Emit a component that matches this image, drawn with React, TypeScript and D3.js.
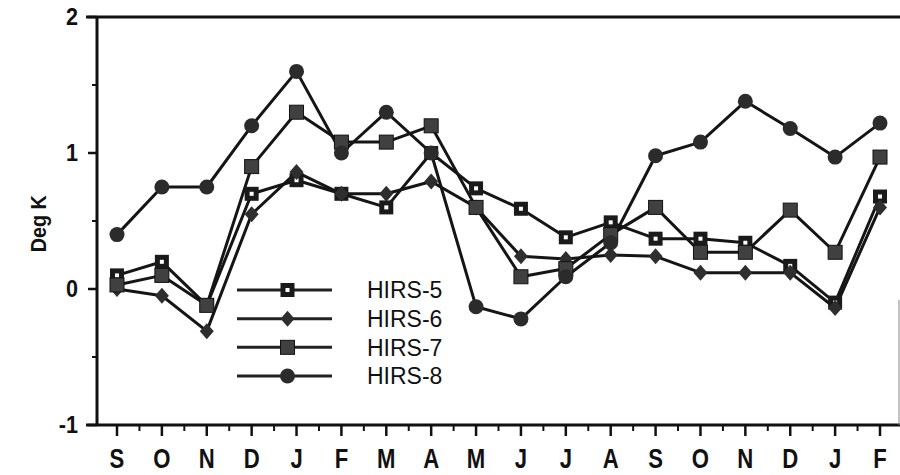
import React from "react";
import * as d3 from "d3";

// month labels along the bottom (Sep through the following Feb + 1 yr)
const months = ["S", "O", "N", "D", "J", "F", "M", "A", "M", "J", "J", "A", "S", "O", "N", "D", "J", "F"];
const yTicks = [-1, 0, 1, 2];
const yMinor = [-0.5, 0.5, 1.5];

const hirs5 = [0.1, 0.2, -0.12, 0.7, 0.8, 0.7, 0.6, 1.0, 0.74, 0.59, 0.38, 0.49, 0.37, 0.37, 0.34, 0.17, -0.1, 0.68];
const hirs6 = [0.0, -0.05, -0.31, 0.55, 0.86, 0.7, 0.7, 0.79, 0.6, 0.24, 0.22, 0.25, 0.24, 0.12, 0.12, 0.12, -0.14, 0.6];
const hirs7 = [0.03, 0.1, -0.12, 0.9, 1.3, 1.08, 1.08, 1.2, 0.6, 0.09, 0.15, 0.4, 0.6, 0.27, 0.27, 0.58, 0.27, 0.97];
const hirs8 = [0.4, 0.75, 0.75, 1.2, 1.6, 1.0, 1.3, 1.0, -0.13, -0.22, 0.09, 0.34, 0.98, 1.08, 1.38, 1.18, 0.97, 1.22];

const seriesNames = ["HIRS-5", "HIRS-6", "HIRS-7", "HIRS-8"];

function Marker({ kind, cx, cy }) {
    if (kind === "HIRS-5") {
        return (
            <g>
                <rect x={cx - 7} y={cy - 7} width={14} height={14} fill="#1a1a1a" />
                <rect x={cx - 2} y={cy - 2} width={4} height={4} fill="#fff" />
            </g>
        );
    }
    if (kind === "HIRS-6") {
        return <path d={`M${cx},${cy - 8}L${cx + 7},${cy}L${cx},${cy + 8}L${cx - 7},${cy}Z`} fill="#2e2e2e" />;
    }
    if (kind === "HIRS-7") {
        return <rect x={cx - 7} y={cy - 7} width={14} height={14} fill="#404040" stroke="#111" strokeWidth={1} />;
    }
    return <circle cx={cx} cy={cy} r={7.5} fill="#2b2b2b" />;
}

export default function App() {
    const width = 900;
    const height = 475;

    const x = d3.scaleLinear().domain([0, months.length - 1]).range([117, 880]);
    const y = d3.scaleLinear().domain([-1, 2]).range([425, 17]);
    const axisX = 97;

    const data = [hirs5, hirs6, hirs7, hirs8];
    const line = d3
        .line()
        .x((d, i) => x(i))
        .y((d) => y(d));

    const minorX = d3.range(0.5, months.length - 1, 1);
    const font = "'Liberation Sans', Arial, Helvetica, sans-serif";

    // legend layout
    const legX0 = 237;
    const legX1 = 332;
    const legRow = d3.scaleLinear().domain([0, 3]).range([290, 376]);

    return (
        <svg
            width={width}
            height={height}
            style={{ position: "absolute", left: 0, top: 0, background: "#fff" }}
            fontFamily={font}
        >
            {/* frame */}
            <line x1={86} x2={width} y1={y(2)} y2={y(2)} stroke="#111" strokeWidth={3} />
            <line x1={axisX} x2={axisX} y1={y(2)} y2={y(-1)} stroke="#111" strokeWidth={3} />
            <line x1={86} x2={width} y1={y(-1)} y2={y(-1)} stroke="#111" strokeWidth={3} />
            <line x1={899} x2={899} y1={y(-0.08)} y2={y(-1)} stroke="#888" strokeWidth={1} />

            {/* y ticks */}
            {yTicks.map((t) => (
                <g key={"yt" + t}>
                    <line x1={axisX - 9} x2={axisX} y1={y(t)} y2={y(t)} stroke="#111" strokeWidth={2.5} />
                    <text
                        transform={`translate(78,${y(t) + 8}) scale(0.9,1)`}
                        textAnchor="end"
                        fontSize={24}
                        fontWeight="bold"
                        fill="#111"
                    >
                        {t}
                    </text>
                </g>
            ))}
            {yMinor.map((t) => (
                <line key={"ym" + t} x1={axisX - 5} x2={axisX} y1={y(t)} y2={y(t)} stroke="#111" strokeWidth={2} />
            ))}
            <text
                transform={`translate(46,${y(0.48)}) rotate(-90) scale(0.9,1)`}
                textAnchor="middle"
                fontSize={22}
                fontWeight="bold"
                fill="#111"
            >
                Deg K
            </text>

            {/* x ticks */}
            {months.map((m, i) => (
                <g key={"xt" + i}>
                    <line x1={x(i)} x2={x(i)} y1={y(-1)} y2={y(-1) + 11} stroke="#111" strokeWidth={2.5} />
                    <text
                        transform={`translate(${x(i)},${y(-1) + 43}) scale(0.82,1)`}
                        textAnchor="middle"
                        fontSize={27}
                        fontWeight="bold"
                        fill="#111"
                    >
                        {m}
                    </text>
                </g>
            ))}
            {minorX.map((v) => (
                <line key={"xm" + v} x1={x(v)} x2={x(v)} y1={y(-1)} y2={y(-1) + 6} stroke="#111" strokeWidth={2} />
            ))}

            {/* series lines */}
            {data.map((s, k) => (
                <path key={"l" + k} d={line(s)} fill="none" stroke="#151515" strokeWidth={3} strokeLinejoin="round" />
            ))}
            {/* markers */}
            {data.map((s, k) => (
                <g key={"m" + k}>
                    {s.map((v, i) => (
                        <Marker key={i} kind={seriesNames[k]} cx={x(i)} cy={y(v)} />
                    ))}
                </g>
            ))}

            {/* legend */}
            {seriesNames.map((n, k) => (
                <g key={"lg" + n}>
                    <line x1={legX0} x2={legX1} y1={legRow(k)} y2={legRow(k)} stroke="#222" strokeWidth={3} />
                    <Marker kind={n} cx={(legX0 + legX1) / 2 + 3} cy={legRow(k)} />
                    <text x={367} y={legRow(k)} dy="0.36em" fontSize={23} fill="#111">
                        {n}
                    </text>
                </g>
            ))}
        </svg>
    );
}
